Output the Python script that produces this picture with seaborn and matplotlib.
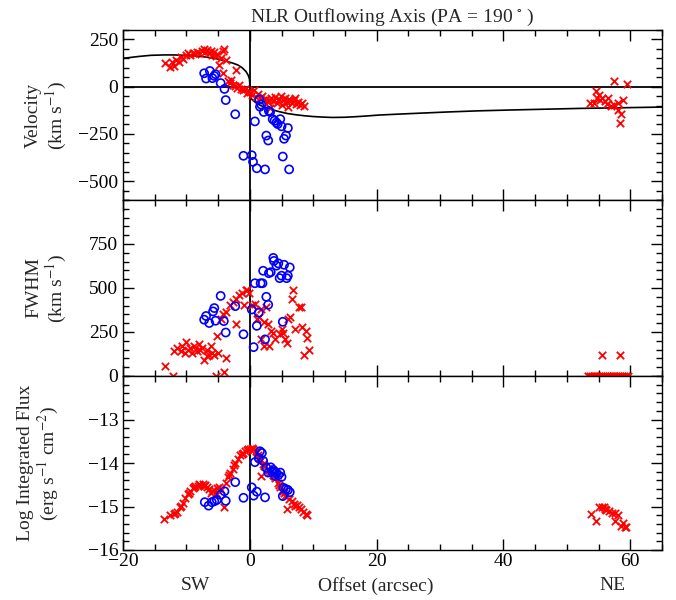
import numpy as np
import pandas as pd
import matplotlib
matplotlib.use("Agg")
import matplotlib.pyplot as plt
import seaborn as sns
from matplotlib.ticker import MultipleLocator

# ---------------- data ----------------
# Velocity, red crosses
vel_red_x = [-13.4, -12.6, -12.3, -11.9, -11.6, -11.2, -10.9, -10.5, -10.1, -9.8, -9.4, -9.0,
             -8.7, -8.3, -8.0, -7.6, -7.3, -7.0, -6.8, -6.5, -6.2, -5.9, -5.7, -5.4, -5.1,
             -4.9, -4.6, -4.2, -4.0, -4.3, -3.8, -2.2, -3.5, -3.2, -2.9, -2.6, -2.3, -2.0,
             -1.7, -1.4, -1.1, -0.8, -0.5, -0.2, 0.1, 0.4, 0.7, 1.0, 1.3, 1.6, 1.9, 2.2,
             2.5, 2.8, 3.1, 3.4, 3.7, 4.0, 4.3, 4.6, 4.9, 5.2, 5.5, 5.8, 6.1, 6.4, 6.7,
             7.0, 7.3, 7.6, 7.9, 8.2, 8.5, 3.2, 5.0, 6.0, 7.2,
             53.7, 54.6, 54.8, 55.2, 55.6, 56.0, 56.5, 56.3, 57.0, 57.5, 58.1, 58.8, 58.0,
             58.6, 58.3, 57.5, 59.5, 55.0, 54.3]
vel_red_y = [123, 105, 132, 110, 140, 128, 155, 147, 168, 176, 165, 180,
             172, 185, 178, 190, 200, 185, 195, 178, 188, 170, 182, 160, 172,
             115, 150, 190, 200, 71, 140, 88, 30, 20, 35, 10, 5, -5,
             10, -15, -20, -10, -35, -25, -30, -45, -20, -55, -40, -60, -50, -70,
             -65, -80, -70, -60, -75, -55, -85, -65, -50, -70, -60, -80, -65, -75, -85,
             -70, -90, -80, -95, -85, -100, -115, -95, -110, -60,
             -89, -24, -59, -70, -60, -75, -59, -94, -100, -99, -85, -71, -123,
             -144, -194, 28, 16, -45, -85]

# Velocity, blue circles
vel_blue_x = [-7.2, -6.3, -6.9, -5.9, -5.4, -5.6, -4.6, -4.0, -3.8, -2.3, -1.0, 0.3, 0.5,
              1.1, 2.4, 0.8, 1.5, 1.6, 1.8, 2.2, 3.0, 3.2, 2.6, 2.9, 3.6, 3.9, 4.2, 4.4,
              4.8, 5.0, 6.0, 5.7, 5.4, 5.2, 6.2]
vel_blue_y = [71, 83, 43, 45, 66, 57, 19, -12, -71, -146, -366, -363, -398,
              -432, -438, -184, -68, -106, -95, -134, -128, -134, -259, -285, -172, -180, -190, -198,
              -172, -210, -219, -259, -276, -370, -438]

# Model curve in the velocity panel
curve_x = [-20, -17.5, -15.6, -13.5, -11.9, -9.5, -7.2, -5.5, -4.0, -2.8, -1.9, -1.2, -0.6,
           -0.25, -0.05, 0.0, 0.0, 0.1, 0.35, 0.95, 1.6, 2.5, 3.5, 4.6, 5.9, 7.3, 8.6,
           9.9, 11.5, 13.0, 15.0, 16.7, 18.5, 20.5, 25.0, 31.2, 36.0, 41.7, 47.0, 52.2,
           58.0, 65.0]
curve_y = [150, 160, 166, 168, 168, 165, 158, 150, 137, 126, 115, 100, 80,
           60, 40, 10, -40, -55, -68, -85, -98, -111, -122, -132, -142, -149, -154,
           -158, -161, -163, -162, -159, -155, -150, -143, -134, -128, -123, -119, -115,
           -112, -108]

# FWHM, red crosses
fw_red_x = [-13.4, -12.1, -11.9, -11.5, -10.9, -10.7, -10.3, -10.0, -9.8, -9.4, -9.1, -8.8,
            -8.3, -8.0, -7.8, -7.5, -7.3, -6.8, -6.5, -6.0, -5.7, -6.2, -6.7, -5.1, -5.4,
            -5.0, -4.0, -3.8, -4.6, -4.3, -3.8, -3.2, -2.7, -2.2, -1.7, -1.2, -0.6, -0.1,
            -0.4, -0.9, -2.2,
            0.42, 0.79, 1.1, 1.5, 1.7, 2.2, 2.5, 2.8, 3.3, 3.6, 3.9, 3.0, 2.2, 1.7, 4.7,
            5.0, 5.3, 5.5, 5.8, 6.0, 6.3, 6.8, 6.7, 7.2, 7.7, 8.1, 8.5, 8.8, 9.0, 9.3, 8.2,
            53.3, 53.6, 53.9, 54.2, 54.5, 54.8, 55.1, 55.4, 55.7, 56.0, 56.3, 56.6, 56.9,
            57.2, 57.5, 57.8, 58.1, 58.4, 58.7, 59.0, 59.3, 59.6, 55.6, 58.4]
fw_red_y = [55, 2, 141, 160, 141, 170, 131, 193, 150, 160, 131, 170,
            141, 179, 150, 160, 93, 112, 121, 131, 121, 170, 150, 228, 2,
            131, 25, 102, 324, 353, 363, 401, 421, 440, 459, 469, 488, 469,
            488, 401, 295,
            401, 411, 324, 334, 382, 305, 392, 295, 257, 247, 208, 170, 170, 208, 237,
            266, 247, 208, 189, 324, 334, 488, 440, 266, 392, 392, 121, 257, 218, 150, 276,
            0, 0, 0, 0, 0, 0, 0, 0, 0, 0, 0, 0, 0,
            0, 0, 0, 0, 0, 0, 0, 0, 0, 122, 122]

# FWHM, blue circles
fw_blue_x = [-7.2, -6.9, -6.4, -5.8, -5.6, -5.4, -4.6, -4.1, -3.8, -2.3, -1.0, 0.3, 0.6, 0.8,
             1.1, 1.4, 1.7, 2.0, 2.1, 2.4, 2.6, 2.9, 3.0, 3.3, 3.7, 3.8, 4.2, 4.5, 4.7,
             5.0, 5.4, 5.8, 6.0, 6.3, 5.2]
fw_blue_y = [320, 341, 301, 367, 386, 314, 455, 312, 247, 397, 237, 378, 164, 527,
             285, 359, 527, 527, 598, 208, 450, 405, 584, 590, 671, 654, 627, 640, 556,
             570, 632, 556, 570, 617, 308]

# Log integrated flux, red crosses
fl_red_x = [-13.5, -12.6, -12.0, -11.5, -11.0, -10.6, -10.2, -9.8, -9.4, -9.0, -8.6, -8.2,
            -7.8, -7.4, -7.0, -6.7, -6.4, -6.0, -5.6, -5.2, -4.9, -4.5, -4.1, -3.8, -3.5,
            -3.1, -2.7, -2.3, -1.9, -1.5, -1.1, -0.7, -0.3, 0.1, 0.5, 0.9, 1.3, 1.7, 2.0,
            2.4, 2.8, 1.7, 3.2, 3.6, 4.0, 4.4, 4.8, 5.2, 5.6, 5.9, 6.2, 6.6, 7.0, 7.5,
            8.0, 8.4, 8.8, 9.0,
            -11.8, -10.8, -9.6, -8.8, -8.0, -7.2, -6.2, -5.4, -3.3, -2.5, -1.3, -0.5, 0.3,
            1.1, 1.5, 2.2, 3.0, 3.8, 4.6, 5.4, 7.2, 7.8,
            53.8, 54.6, 55.1, 55.5, 55.9, 56.2, 56.6, 57.1, 57.6, 57.6, 58.0, 58.5, 59.1,
            59.3, 56.0, 58.8]
fl_red_y = [-15.29, -15.20, -15.17, -15.12, -15.02, -14.92, -14.80, -14.72, -14.64, -14.58,
            -14.54, -14.52, -14.50, -14.48, -14.50, -14.55, -14.60, -14.65, -14.62, -14.58,
            -14.55, -14.62, -15.00, -14.45, -14.33, -14.22, -14.13, -14.00, -13.90, -13.82,
            -13.76, -13.72, -13.68, -13.67, -13.68, -13.72, -13.82, -13.94, -14.02, -14.08,
            -14.13, -14.29, -14.20, -14.28, -14.35, -14.45, -14.55, -14.65, -14.75, -15.06,
            -14.82, -14.88, -14.95, -14.96, -15.06, -15.12, -15.17, -15.20,
            -15.15, -14.98, -14.68, -14.55, -14.48, -14.52, -14.68, -14.70, -14.28, -14.05,
            -13.80, -13.70, -13.66, -13.75, -13.88, -14.06, -14.16, -14.30, -14.50, -14.70,
            -14.98, -15.02,
            -15.17, -15.33, -15.00, -15.00, -15.02, -15.07, -15.10, -15.14, -15.16, -15.33,
            -15.20, -15.44, -15.48, -15.46, -15.05, -15.38]

# Log integrated flux, blue circles
fl_blue_x = [-7.1, -6.5, -6.0, -5.6, -5.2, -4.6, -4.0, -3.8, -2.3, -1.0, 0.3, 0.6, 1.1, 2.4,
             0.8, 1.4, 1.6, 1.9, 2.1, 2.6, 2.9, 3.3, 3.7, 3.9, 4.2, 4.5, 4.8, 5.0, 5.3,
             5.7, 6.0, 6.3, 5.2, 4.0, 3.5]
fl_blue_y = [-14.90, -14.98, -14.90, -14.88, -14.85, -14.73, -14.65, -14.87, -14.44, -14.80,
             -14.56, -14.75, -14.66, -14.79, -13.98, -13.89, -13.73, -13.77, -13.95, -14.11,
             -14.22, -14.10, -14.16, -14.20, -14.23, -14.28, -14.22, -14.32, -14.57, -14.60,
             -14.62, -14.67, -14.76, -14.30, -14.20]

vel_ticks = [-500, -250, 0, 250]
fw_ticks = [0, 250, 500, 750]
fl_ticks = [-16, -15, -14, -13]
x_ticks = [-20, 0, 20, 40, 60]

# ---------------- styling ----------------
sns.set_style("ticks")
plt.rcParams["font.family"] = ["Liberation Serif", "DejaVu Serif"]
plt.rcParams["mathtext.fontset"] = "stix"
plt.rcParams["axes.linewidth"] = 1.0
plt.rcParams["axes.edgecolor"] = "black"
plt.rcParams["xtick.color"] = "black"
plt.rcParams["ytick.color"] = "black"

RED = (1.0, 0.0, 0.0)
BLUE = (0.0, 0.0, 1.0)
FS = 14

fig = plt.figure(figsize=(6.76, 6.0), dpi=100)
L, R = 123 / 676, 662 / 676
W = R - L
def pos(top_px, bot_px):
    return [L, 1 - bot_px / 600, W, (bot_px - top_px) / 600]

ax1 = fig.add_axes(pos(30, 200))
ax2 = fig.add_axes(pos(200, 376))
ax3 = fig.add_axes(pos(376, 550))

def red(ax, xs, ys):
    df = pd.DataFrame({"x": xs, "y": ys})
    sns.scatterplot(data=df, x="x", y="y", ax=ax, marker="x", color=RED, s=28,
                    linewidth=1.3, legend=False, zorder=3)

def blue(ax, xs, ys):
    df = pd.DataFrame({"x": xs, "y": ys})
    sns.scatterplot(data=df, x="x", y="y", ax=ax, marker="o", facecolors="none",
                    edgecolor=BLUE, s=34, linewidth=1.2, legend=False, zorder=4)

# Velocity
cdf = pd.DataFrame({"x": curve_x, "y": curve_y})
sns.lineplot(data=cdf, x="x", y="y", ax=ax1, color="black", lw=1.2, sort=False,
             estimator=None, zorder=2)
red(ax1, vel_red_x, vel_red_y)
blue(ax1, vel_blue_x, vel_blue_y)
ax1.axhline(0, color="black", lw=1.3, zorder=1)
ax1.set_ylim(-600, 300)
ax1.set_yticks(vel_ticks)
ax1.yaxis.set_minor_locator(MultipleLocator(50))
ax1.set_ylabel("Velocity\n(km s$^{-1}$)", fontsize=FS, linespacing=1.1)

# FWHM
red(ax2, fw_red_x, fw_red_y)
blue(ax2, fw_blue_x, fw_blue_y)
ax2.set_ylim(0, 1000)
ax2.set_yticks(fw_ticks)
ax2.yaxis.set_minor_locator(MultipleLocator(50))
ax2.set_ylabel("FWHM\n(km s$^{-1}$)", fontsize=FS, linespacing=1.1)

# Flux
red(ax3, fl_red_x, fl_red_y)
blue(ax3, fl_blue_x, fl_blue_y)
ax3.set_ylim(-16, -12)
ax3.set_yticks(fl_ticks)
ax3.yaxis.set_minor_locator(MultipleLocator(0.2))
ax3.set_ylabel("Log Integrated Flux\n(erg s$^{-1}$ cm$^{-2}$)", fontsize=FS, linespacing=1.1)

for ax in (ax1, ax2, ax3):
    ax.axvline(0, color="black", lw=1.3, zorder=1)
    ax.set_xlim(-20, 65)
    ax.set_xticks(x_ticks)
    ax.xaxis.set_minor_locator(MultipleLocator(5))
    ax.tick_params(which="both", direction="in", top=True, right=True, labelsize=FS)
    ax.tick_params(which="major", length=8, width=1.0)
    ax.tick_params(which="minor", length=4, width=1.0)
    ax.set_xlabel("")
    ax.yaxis.set_label_coords(-0.10, 0.5)
    for s in ax.spines.values():
        s.set_visible(True)

ax3.yaxis.set_label_coords(-0.115, 0.5)
ax1.tick_params(labelbottom=False)
ax2.tick_params(labelbottom=False)
ax3.tick_params(axis="x", pad=2)

ax1.set_title("NLR Outflowing Axis (PA = 190$\\,^\\circ\\,$)", fontsize=FS, pad=6)

ty = 1 - 586 / 600
fig.text(195 / 676, ty, "SW", ha="center", va="center", fontsize=FS)
fig.text(376 / 676, ty, "Offset (arcsec)", ha="center", va="center", fontsize=FS)
fig.text(612 / 676, ty, "NE", ha="center", va="center", fontsize=FS)

fig.savefig("out.png", dpi=100)
